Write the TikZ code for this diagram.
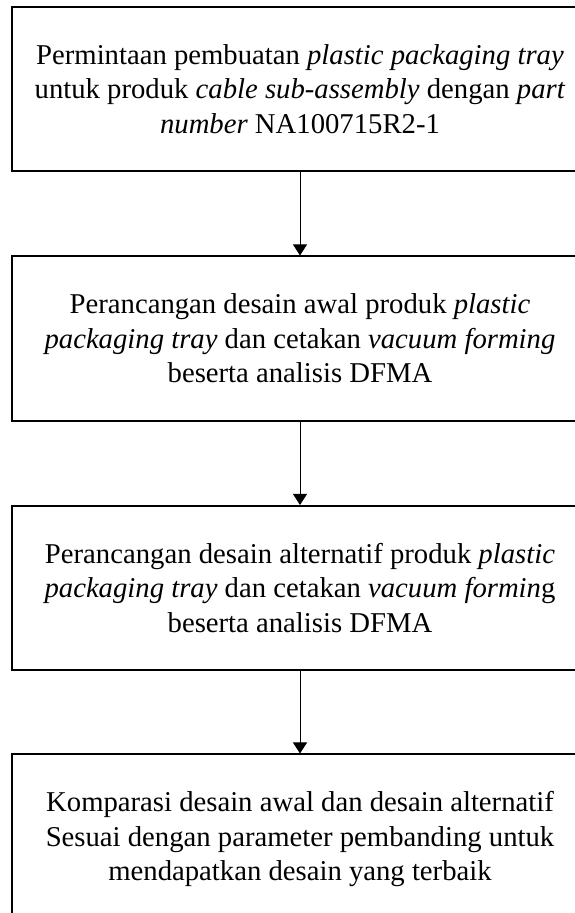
\documentclass[tikz,border=0pt]{standalone}
\usepackage{fontspec}
\setmainfont{Liberation Serif}
\usepackage{tikz}
\usetikzlibrary{positioning,arrows.meta}

\begin{document}
\begin{tikzpicture}[x=1pt, y=1pt,
    stepbox/.style={rectangle, draw=black, line width=1.6pt, minimum width=576pt, minimum height=164.5pt,
                    align=center, font=\fontsize{28.7}{34.5}\selectfont},
    flow/.style={draw=black, line width=0.8pt, -{Triangle[width=14pt, length=11pt]}}]
                \useasboundingbox (0, 0) rectangle (575, -913);
                \clip (0, 0) rectangle (575, -913);
                % Request box
                \node[stepbox] (request) at (300, -89) {Permintaan pembuatan \textit{plastic packaging tray}\\untuk produk \textit{cable sub-assembly} dengan \textit{part}\\\textit{number} NA100715R2-1};
                % Initial design box
                \node[stepbox, below=83.4pt of request] (initial) {Perancangan desain awal produk \textit{plastic}\\\textit{packaging tray} dan cetakan \textit{vacuum forming}\\beserta analisis DFMA};
                % Alternative design box
                \node[stepbox, below=83.4pt of initial] (alternative) {Perancangan desain alternatif produk \textit{plastic}\\\textit{packaging tray} dan cetakan \textit{vacuum formin}g\\beserta analisis DFMA};
                % Comparison box
                \node[stepbox, minimum height=170pt, below=82.4pt of alternative] (compare) {Komparasi desain awal dan desain alternatif\\Sesuai dengan parameter pembanding untuk\\mendapatkan desain yang terbaik};
                % Arrows
                \draw[flow] (request) -- (initial);
                \draw[flow] (initial) -- (alternative);
                \draw[flow] (alternative) -- (compare);
            \end{tikzpicture}
\end{document}
